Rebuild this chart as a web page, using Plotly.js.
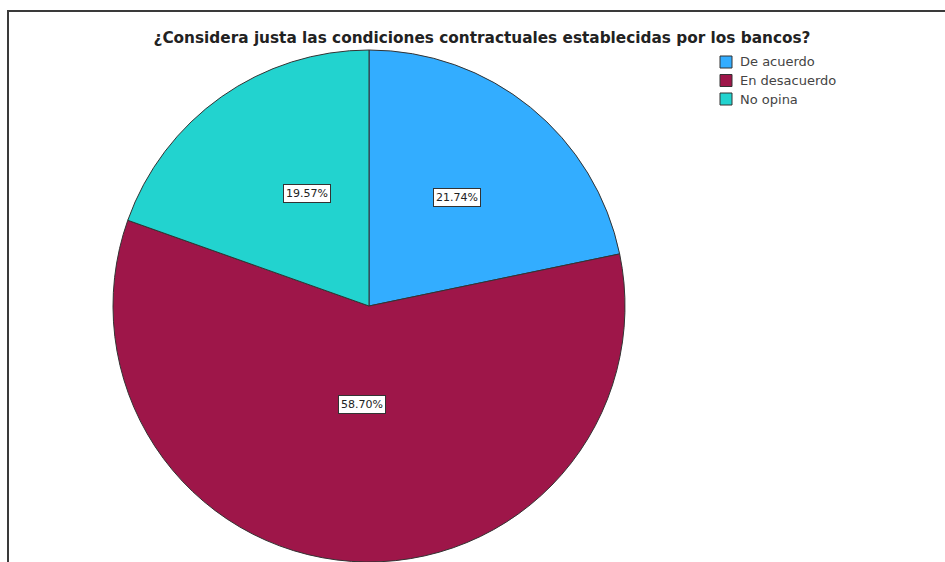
<!DOCTYPE html>
<html>
<head>
<meta charset="utf-8">
<script src="https://cdn.plot.ly/plotly-3.0.1.min.js"></script>
<style>html,body{margin:0;padding:0;background:#fff;overflow:hidden;}#chart{width:945px;height:562px;}</style>
</head>
<body>
<div id="chart"></div>
<script>
const categories = ["De acuerdo", "En desacuerdo", "No opina"];
const counts = [10, 27, 9];
const percentLabels = ["21.74%", "58.70%", "19.57%"];
const colors = ["#33adff", "#9e1649", "#22d3cf"];
const labelRadius = [0.547, 0.424, 0.584];

const W = 945, H = 562;
const cx = 369, cy = 306, R = 256;
const total = counts.reduce((a, b) => a + b, 0);
const FONT = 'DejaVu Sans, Verdana, sans-serif';

const annotations = [];
const shapes = [];
let acc = 0;
counts.forEach((v, i) => {
  const mid = (acc + v / 2) / total * 2 * Math.PI;
  acc += v;
  const px = cx + labelRadius[i] * R * Math.sin(mid);
  const py = cy - labelRadius[i] * R * Math.cos(mid);
  annotations.push({
    x: px / W, y: 1 - py / H, xref: 'paper', yref: 'paper',
    text: percentLabels[i], showarrow: false,
    font: {family: FONT, size: 11, color: '#222'},
    bgcolor: '#ffffff', bordercolor: '#333333', borderwidth: 1, borderpad: 2
  });
});

// legend (drawn as shapes + text, compact like the reference)
const legX = 720, legY0 = 62, legStep = 18.5, sw = 12;
categories.forEach((c, i) => {
  const yc = legY0 + i * legStep;
  shapes.push({
    type: 'rect', xref: 'paper', yref: 'paper',
    x0: legX / W, x1: (legX + sw) / W,
    y0: 1 - (yc + sw / 2) / H, y1: 1 - (yc - sw / 2) / H,
    fillcolor: colors[i], line: {color: '#333', width: 1}
  });
  annotations.push({
    x: (legX + sw + 6) / W, y: 1 - yc / H, xref: 'paper', yref: 'paper',
    xanchor: 'left', yanchor: 'middle', showarrow: false,
    text: c, font: {family: FONT, size: 13, color: '#444'}
  });
});

shapes.push({
  type: 'rect', xref: 'paper', yref: 'paper',
  x0: 8 / W, x1: 1.05, y0: -0.05, y1: 1 - 11 / H,
  line: {color: '#3a3a3a', width: 2}, fillcolor: 'rgba(0,0,0,0)'
});

const trace = {
  type: 'pie',
  labels: categories,
  values: counts,
  sort: false,
  direction: 'clockwise',
  rotation: 0,
  textinfo: 'none',
  hoverinfo: 'label+percent',
  showlegend: false,
  marker: {colors: colors, line: {color: '#333333', width: 1}},
  domain: {x: [(cx - R) / W, (cx + R) / W], y: [0, 1 - (cy - R) / H]}
};

const layout = {
  width: W, height: H,
  margin: {l: 0, r: 0, t: 0, b: 0},
  paper_bgcolor: '#ffffff',
  title: {
    text: '<b>¿Considera justa las condiciones contractuales establecidas por los bancos?</b>',
    font: {family: FONT, size: 15.3, color: '#222'},
    x: 482 / W, xanchor: 'center', y: 1 - 38 / H, yanchor: 'middle'
  },
  showlegend: false,
  annotations: annotations,
  shapes: shapes
};

Plotly.newPlot('chart', [trace], layout, {displayModeBar: false, staticPlot: true});
</script>
</body>
</html>
